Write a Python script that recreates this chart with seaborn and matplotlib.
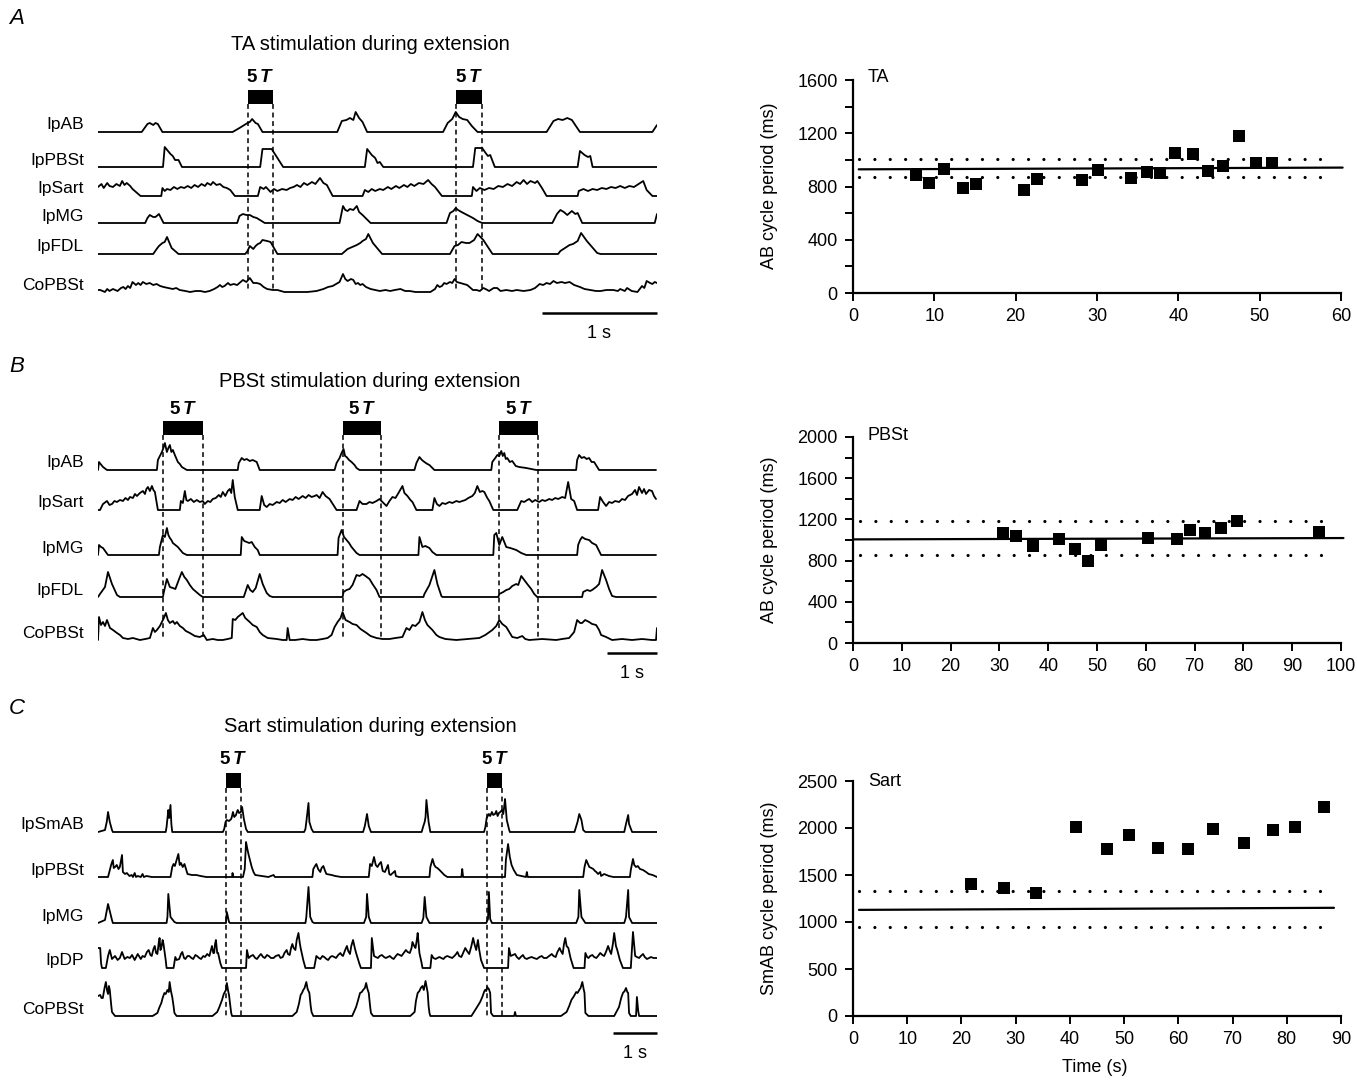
import matplotlib
matplotlib.use("Agg")
import matplotlib.pyplot as plt
import seaborn as sns
import numpy as np

# ---------------- data: right-hand cycle-period plots ----------------
A_TIME = [7.8, 9.4, 11.2, 13.5, 15.1, 21.0, 22.6, 28.1, 30.1, 34.2, 36.1, 37.8, 39.6, 41.8, 43.6, 45.5, 47.5, 49.5, 51.5]
A_PERIOD = [888, 828, 929, 787, 820, 770, 858, 846, 924, 866, 909, 901, 1048, 1043, 916, 952, 1177, 977, 977]
A_MEAN = [929, 942]
A_SD = [868, 1003]

B_TIME = [30.7, 33.5, 36.9, 42.3, 45.5, 48.1, 50.9, 60.5, 66.4, 69.1, 72.2, 75.4, 78.6, 95.5]
B_PERIOD = [1065, 1039, 940, 1006, 914, 795, 950, 1019, 1009, 1095, 1071, 1117, 1183, 1078]
B_MEAN = [1006, 1019]
B_SD = [858, 1187]

C_TIME = [21.7, 27.8, 33.8, 41.1, 46.8, 50.9, 56.2, 61.7, 66.4, 72.2, 77.5, 81.5, 86.8]
C_PERIOD = [1400, 1367, 1312, 2010, 1773, 1923, 1791, 1776, 1985, 1842, 1977, 2014, 2222]
C_MEAN = [1129, 1151]
C_SD = [947, 1334]

# ---------------- data: EMG traces (time s, amplitude a.u.) ----------------
A_NAMES = ["IpAB", "IpPBSt", "IpSart", "IpMG", "IpFDL", "CoPBSt"]
A_DUR = 4.86
A_STIM = [(1.30, 1.52), (3.11, 3.34)]
A_IpAB = [(0,0),(0.38,0),(0.43,8),(0.45,9),(0.48,7),(0.50,9),(0.52,8),(0.56,0),(1.17,0),(1.23,4),(1.30,9),(1.32,10),(1.34,13),(1.37,9),(1.39,8),(1.43,0),(2.08,0),(2.12,11),(2.16,12),(2.19,14),(2.22,12),(2.24,20),(2.27,14),(2.30,10),(2.34,0),(3.00,0),(3.04,9),(3.08,13),(3.11,20),(3.14,15),(3.17,13),(3.21,12),(3.25,6),(3.30,0),(3.90,0),(3.96,11),(4.00,13),(4.04,12),(4.08,14),(4.12,12),(4.19,0),(4.82,0),(4.86,7)]
A_IpPBSt = [(0,0),(0.565,0),(0.58,20),(0.63,13),(0.65,11),(0.67,7),(0.70,7),(0.73,0),(1.41,0),(1.43,18),(1.51,18),(1.56,9),(1.61,0),(2.32,0),(2.34,18),(2.38,12),(2.41,9),(2.43,4),(2.45,5),(2.48,0),(3.26,0),(3.28,19),(3.34,19),(3.37,14),(3.39,11),(3.41,12),(3.45,0),(4.17,0),(4.19,16),(4.23,12),(4.26,10),(4.28,11),(4.30,0),(4.86,0)]
A_IpSart = [(0,9),(0.03,12),(0.05,8),(0.08,13),(0.10,10),(0.13,9),(0.16,12),(0.19,10),(0.21,15),(0.23,11),(0.25,13),(0.28,10),(0.30,7),(0.37,0),(0.55,0),(0.56,8),(0.58,5),(0.60,7),(0.63,6),(0.66,9),(0.69,7),(0.72,9),(0.75,8),(0.78,10),(0.81,8),(0.84,11),(0.87,9),(0.90,12),(0.93,10),(0.95,13),(0.98,11),(1.00,14),(1.03,11),(1.06,12),(1.09,9),(1.12,8),(1.15,6),(1.19,0),(1.39,0),(1.41,9),(1.44,7),(1.46,9),(1.50,4),(1.53,7),(1.56,5),(1.60,7),(1.64,6),(1.67,8),(1.70,9),(1.73,11),(1.76,9),(1.79,13),(1.82,11),(1.86,14),(1.89,12),(1.93,18),(1.96,13),(1.99,11),(2.04,0),(2.30,0),(2.32,6),(2.35,4),(2.38,7),(2.41,5),(2.45,7),(2.48,6),(2.52,9),(2.55,7),(2.59,10),(2.62,8),(2.66,11),(2.69,9),(2.72,12),(2.75,10),(2.79,13),(2.83,12),(2.87,16),(2.90,12),(2.93,9),(2.99,0),(3.25,0),(3.26,9),(3.29,5),(3.32,8),(3.36,6),(3.40,8),(3.44,7),(3.48,10),(3.52,9),(3.56,12),(3.60,10),(3.64,14),(3.67,12),(3.70,16),(3.73,12),(3.76,15),(3.80,13),(3.82,15),(3.86,8),(3.90,0),(4.17,0),(4.18,5),(4.22,7),(4.26,5),(4.30,7),(4.34,6),(4.38,8),(4.42,7),(4.46,9),(4.50,8),(4.54,10),(4.58,8),(4.62,10),(4.66,9),(4.70,12),(4.74,15),(4.77,6),(4.82,0),(4.86,0)]
A_IpMG = [(0,0),(0.41,0),(0.43,5),(0.45,8),(0.48,6),(0.50,6),(0.53,9),(0.57,0),(1.21,0),(1.23,7),(1.26,9),(1.29,8),(1.32,8),(1.35,6),(1.38,5),(1.45,0),(2.10,0),(2.13,17),(2.15,13),(2.17,12),(2.19,14),(2.22,13),(2.25,17),(2.27,11),(2.30,8),(2.37,0),(3.03,0),(3.06,10),(3.09,12),(3.11,15),(3.13,13),(3.16,11),(3.21,8),(3.26,5),(3.30,2),(3.34,0),(3.95,0),(3.99,9),(4.02,13),(4.05,11),(4.08,8),(4.12,12),(4.15,9),(4.17,10),(4.21,0),(4.84,0),(4.86,9)]
A_IpFDL = [(0,0),(0.48,0),(0.51,5),(0.53,8),(0.56,11),(0.58,12),(0.60,17),(0.64,6),(0.70,0),(1.28,0),(1.30,3),(1.32,8),(1.35,5),(1.37,8),(1.39,10),(1.41,11),(1.43,14),(1.47,13),(1.50,12),(1.56,0),(2.12,0),(2.17,5),(2.21,7),(2.25,9),(2.28,11),(2.30,13),(2.33,15),(2.35,20),(2.39,11),(2.47,0),(3.06,0),(3.08,4),(3.10,8),(3.13,9),(3.16,12),(3.20,11),(3.23,11),(3.27,14),(3.30,20),(3.35,14),(3.43,0),(4.00,0),(4.02,3),(4.06,6),(4.10,9),(4.13,10),(4.17,13),(4.20,21),(4.25,13),(4.34,1),(4.37,0),(4.86,0)]
A_CoPBSt = [(0.00,2),(0.02,2),(0.06,0),(0.08,3),(0.10,1),(0.13,3),(0.17,1),(0.20,4),(0.22,5),(0.24,3),(0.26,6),(0.28,4),(0.30,10),(0.33,7),(0.35,9),(0.37,7),(0.39,10),(0.42,8),(0.45,9),(0.48,7),(0.51,8),(0.54,6),(0.57,5),(0.61,4),(0.65,3),(0.68,4),(0.71,2),(0.76,1),(0.80,0),(0.85,1),(0.89,1),(0.93,0),(0.97,1),(1.01,3),(1.04,5),(1.06,7),(1.08,5),(1.10,6),(1.13,9),(1.15,7),(1.18,8),(1.21,7),(1.24,10),(1.26,12),(1.29,10),(1.32,14),(1.35,9),(1.38,9),(1.41,8),(1.44,5),(1.47,3),(1.52,2),(1.56,2),(1.62,0),(1.67,0),(1.75,0),(1.82,0),(1.90,1),(1.96,3),(2.00,5),(2.04,6),(2.07,8),(2.10,10),(2.13,18),(2.15,13),(2.17,11),(2.20,13),(2.22,12),(2.24,8),(2.26,9),(2.28,7),(2.30,8),(2.33,5),(2.37,3),(2.41,2),(2.45,1),(2.50,2),(2.54,1),(2.58,2),(2.63,3),(2.67,1),(2.71,1),(2.76,0),(2.82,0),(2.89,0),(2.93,3),(2.95,7),(2.97,5),(2.99,6),(3.01,9),(3.03,8),(3.06,10),(3.08,9),(3.10,13),(3.12,10),(3.15,9),(3.18,8),(3.21,7),(3.24,4),(3.26,2),(3.29,2),(3.32,1),(3.35,4),(3.37,3),(3.40,1),(3.44,4),(3.47,4),(3.50,1),(3.55,2),(3.60,1),(3.64,2),(3.70,1),(3.76,2),(3.80,4),(3.84,8),(3.87,7),(3.90,9),(3.93,8),(3.96,11),(3.99,9),(4.03,10),(4.06,9),(4.10,10),(4.14,7),(4.19,5),(4.23,3),(4.28,2),(4.33,1),(4.37,1),(4.42,2),(4.48,2),(4.52,1),(4.54,3),(4.58,1),(4.60,4),(4.64,1),(4.69,0),(4.73,6),(4.75,4),(4.77,11),(4.80,9),(4.82,8),(4.84,10),(4.86,9)]

B_NAMES = ["IpAB", "IpSart", "IpMG", "IpFDL", "CoPBSt"]
B_DUR = 11.2
B_STIM = [(1.30, 2.10), (4.90, 5.68), (8.04, 8.82)]
B_IpAB = [(0,0),(0.02,8),(0.10,3),(0.18,0),(1.18,0),(1.20,10),(1.24,14),(1.28,18),(1.31,22),(1.34,27),(1.38,18),(1.41,22),(1.44,25),(1.47,18),(1.50,20),(1.54,15),(1.60,8),(1.64,6),(1.68,3),(1.78,0),(2.80,0),(2.82,7),(2.88,12),(2.93,10),(2.98,11),(3.04,9),(3.10,10),(3.18,8),(3.24,0),(4.74,0),(4.78,7),(4.84,12),(4.88,17),(4.92,21),(4.95,14),(4.98,13),(5.03,10),(5.08,8),(5.14,5),(5.18,2),(5.24,0),(6.34,0),(6.38,7),(6.44,13),(6.49,10),(6.54,8),(6.60,6),(6.64,5),(6.74,0),(7.88,0),(7.90,8),(7.96,12),(8.00,15),(8.04,14),(8.08,19),(8.11,14),(8.14,17),(8.17,11),(8.20,12),(8.25,8),(8.30,9),(8.37,4),(8.44,3),(8.58,2),(8.78,0),(9.58,0),(9.60,10),(9.64,15),(9.69,12),(9.74,13),(9.79,11),(9.84,12),(9.89,8),(9.94,8),(10.04,0),(11.18,0)]
B_IpSart = [(0,0),(0.04,0),(0.10,6),(0.18,9),(0.23,5),(0.28,6),(0.33,9),(0.38,8),(0.44,10),(0.50,9),(0.55,12),(0.60,10),(0.64,13),(0.70,12),(0.74,16),(0.78,14),(0.84,17),(0.90,19),(0.94,16),(0.97,21),(1.00,23),(1.04,19),(1.08,24),(1.11,20),(1.14,18),(1.20,0),(1.64,0),(1.66,9),(1.70,7),(1.74,19),(1.77,10),(1.80,9),(1.86,11),(1.92,8),(1.98,10),(2.04,8),(2.10,9),(2.14,6),(2.20,9),(2.25,8),(2.30,11),(2.36,12),(2.42,15),(2.46,13),(2.50,18),(2.55,14),(2.60,19),(2.64,21),(2.67,17),(2.70,30),(2.74,13),(2.80,0),(3.24,0),(3.28,14),(3.33,5),(3.38,3),(3.44,6),(3.50,5),(3.58,8),(3.64,7),(3.70,10),(3.76,8),(3.84,11),(3.90,10),(3.96,13),(4.02,11),(4.10,14),(4.16,12),(4.22,15),(4.28,13),(4.34,14),(4.38,15),(4.44,12),(4.50,18),(4.56,14),(4.64,11),(4.78,0),(5.18,0),(5.24,9),(5.30,6),(5.38,6),(5.44,8),(5.50,7),(5.58,9),(5.64,11),(5.70,8),(5.78,4),(5.84,9),(5.90,13),(5.96,12),(6.02,17),(6.10,24),(6.14,17),(6.20,14),(6.26,10),(6.30,8),(6.38,0),(6.70,0),(6.74,12),(6.79,6),(6.84,4),(6.90,7),(6.96,6),(7.04,8),(7.10,7),(7.18,9),(7.24,8),(7.30,9),(7.36,10),(7.42,12),(7.50,14),(7.55,17),(7.60,24),(7.65,18),(7.70,19),(7.74,18),(7.80,12),(7.84,9),(7.92,0),(8.40,0),(8.48,9),(8.54,8),(8.60,10),(8.64,11),(8.70,8),(8.76,10),(8.84,8),(8.90,10),(8.96,9),(9.04,11),(9.10,10),(9.16,12),(9.22,11),(9.30,13),(9.36,12),(9.42,28),(9.48,11),(9.54,9),(9.60,0),(10.02,0),(10.06,13),(10.12,8),(10.18,4),(10.24,8),(10.30,7),(10.36,9),(10.44,8),(10.50,11),(10.56,10),(10.62,14),(10.70,16),(10.76,20),(10.80,15),(10.84,23),(10.90,17),(10.94,21),(10.98,16),(11.04,20),(11.10,19),(11.14,14),(11.18,11)]
B_IpMG = [(0,0),(0.02,10),(0.06,8),(0.10,7),(0.20,0),(1.22,0),(1.24,8),(1.30,20),(1.34,18),(1.38,27),(1.41,20),(1.44,17),(1.47,15),(1.50,12),(1.55,10),(1.60,8),(1.65,5),(1.70,2),(1.78,0),(2.86,0),(2.88,18),(2.93,14),(2.98,13),(3.03,12),(3.08,13),(3.14,8),(3.20,5),(3.24,0),(4.80,0),(4.82,17),(4.88,25),(4.93,18),(4.98,15),(5.03,12),(5.08,8),(5.13,5),(5.18,2),(5.24,0),(6.42,0),(6.44,18),(6.50,8),(6.56,9),(6.64,7),(6.70,3),(6.78,0),(7.92,0),(7.94,20),(7.98,22),(8.04,10),(8.10,18),(8.18,8),(8.26,7),(8.32,6),(8.38,5),(8.48,2),(8.58,0),(9.60,0),(9.62,10),(9.66,15),(9.70,18),(9.76,16),(9.84,15),(9.90,12),(9.98,10),(10.08,0),(11.18,0)]
B_IpFDL = [(0,0),(0.04,3),(0.14,10),(0.20,25),(0.28,13),(0.38,2),(0.44,0),(1.30,0),(1.32,5),(1.38,18),(1.44,10),(1.50,9),(1.55,8),(1.58,12),(1.64,20),(1.68,25),(1.73,20),(1.78,17),(1.84,12),(1.90,8),(2.04,2),(2.10,0),(2.92,0),(2.94,3),(3.00,12),(3.05,7),(3.10,5),(3.16,9),(3.24,23),(3.30,13),(3.38,4),(3.44,1),(3.50,0),(4.90,0),(4.92,5),(4.98,7),(5.04,8),(5.10,12),(5.18,22),(5.24,21),(5.30,23),(5.36,21),(5.44,18),(5.50,13),(5.58,7),(5.64,0),(6.52,0),(6.54,3),(6.64,12),(6.74,27),(6.80,13),(6.88,1),(6.90,0),(8.02,0),(8.04,3),(8.12,5),(8.18,7),(8.24,8),(8.30,11),(8.38,13),(8.42,12),(8.48,21),(8.54,17),(8.60,13),(8.68,8),(8.74,3),(8.80,0),(9.70,0),(9.72,5),(9.80,7),(9.86,6),(9.90,7),(9.98,10),(10.04,13),(10.10,27),(10.18,17),(10.24,8),(10.30,1),(10.38,0),(11.18,0)]
B_CoPBSt = [(0,0),(0.02,23),(0.06,15),(0.10,18),(0.14,14),(0.18,20),(0.24,12),(0.30,10),(0.38,7),(0.44,5),(0.50,2),(0.60,1),(0.70,2),(0.84,0),(0.95,1),(1.04,2),(1.10,12),(1.14,8),(1.18,10),(1.24,14),(1.28,18),(1.32,22),(1.36,27),(1.40,20),(1.44,17),(1.50,19),(1.54,16),(1.58,18),(1.64,14),(1.70,12),(1.76,9),(1.84,7),(1.94,4),(2.04,3),(2.12,5),(2.18,0),(2.30,1),(2.40,0),(2.50,0),(2.60,1),(2.68,2),(2.70,21),(2.75,20),(2.80,23),(2.85,25),(2.90,27),(2.95,22),(3.04,18),(3.10,15),(3.18,13),(3.24,8),(3.30,5),(3.40,2),(3.58,1),(3.70,0),(3.78,0),(3.80,12),(3.84,0),(3.95,0),(4.10,1),(4.25,0),(4.38,0),(4.50,1),(4.60,2),(4.68,5),(4.74,13),(4.80,18),(4.86,22),(4.90,28),(4.96,20),(5.04,18),(5.10,16),(5.18,15),(5.26,11),(5.32,9),(5.38,7),(5.46,4),(5.58,2),(5.70,1),(5.84,1),(5.96,2),(6.10,3),(6.18,12),(6.24,10),(6.30,15),(6.36,14),(6.44,18),(6.50,28),(6.55,20),(6.60,15),(6.66,12),(6.70,10),(6.78,5),(6.84,3),(6.96,1),(7.18,0),(7.40,1),(7.64,2),(7.76,5),(7.90,10),(7.98,14),(8.04,20),(8.10,16),(8.18,13),(8.24,8),(8.30,3),(8.40,2),(8.50,4),(8.56,1),(8.64,0),(8.90,1),(9.18,0),(9.30,1),(9.44,2),(9.54,8),(9.60,20),(9.66,17),(9.70,17),(9.76,20),(9.84,18),(9.90,16),(9.98,15),(10.04,10),(10.08,5),(10.18,3),(10.30,0),(10.50,1),(10.70,0),(10.90,1),(11.10,0),(11.18,0),(11.20,12)]

C_NAMES = ["IpSmAB", "IpPBSt", "IpMG", "IpDP", "CoPBSt"]
C_DUR = 12.8
C_STIM = [(2.93, 3.27), (8.91, 9.25)]
C_IpSmAB = [(0,0),(0.16,2),(0.20,10),(0.23,20),(0.27,10),(0.32,2),(0.34,0),(1.55,0),(1.57,5),(1.61,22),(1.63,14),(1.66,27),(1.68,8),(1.70,0),(2.86,0),(2.89,3),(2.92,10),(2.95,12),(3.00,11),(3.05,13),(3.07,16),(3.09,20),(3.12,15),(3.16,17),(3.18,20),(3.20,22),(3.23,19),(3.27,20),(3.30,25),(3.34,13),(3.39,3),(3.43,0),(4.72,0),(4.75,3),(4.77,10),(4.82,29),(4.84,10),(4.89,3),(4.93,0),(6.07,0),(6.11,6),(6.16,18),(6.20,6),(6.25,0),(7.41,0),(7.45,6),(7.48,10),(7.50,15),(7.52,32),(7.57,10),(7.61,0),(8.84,0),(8.87,5),(8.90,14),(8.95,18),(8.98,16),(9.02,20),(9.05,17),(9.09,18),(9.12,21),(9.15,16),(9.18,19),(9.21,20),(9.25,22),(9.28,18),(9.30,25),(9.32,33),(9.36,12),(9.41,3),(9.43,0),(10.91,0),(10.98,10),(11.02,18),(11.07,12),(11.11,2),(11.16,0),(12.05,0),(12.09,8),(12.14,17),(12.16,8),(12.23,0),(12.80,0)]
C_IpPBSt = [(0,0),(0.23,0),(0.27,7),(0.30,12),(0.34,17),(0.36,9),(0.39,10),(0.43,12),(0.47,8),(0.50,10),(0.55,22),(0.57,5),(0.62,3),(0.66,4),(0.72,1),(0.77,2),(0.80,0),(0.84,4),(0.87,0),(0.91,1),(0.98,0),(1.02,3),(1.05,0),(1.11,1),(1.23,0),(1.66,0),(1.70,10),(1.73,13),(1.76,11),(1.80,17),(1.84,23),(1.87,12),(1.90,14),(1.94,10),(1.98,13),(2.05,3),(2.15,2),(2.25,2),(2.35,1),(2.48,0),(3.07,0),(3.08,4),(3.10,0),(3.32,0),(3.36,8),(3.39,35),(3.42,28),(3.45,22),(3.49,15),(3.52,10),(3.56,5),(3.60,2),(3.75,1),(3.90,0),(4.02,2),(4.05,0),(4.36,0),(4.91,0),(4.93,8),(4.97,11),(5.00,13),(5.04,8),(5.09,5),(5.12,9),(5.16,11),(5.20,6),(5.23,3),(5.35,2),(5.43,1),(5.57,0),(6.20,0),(6.23,13),(6.27,11),(6.32,20),(6.36,12),(6.40,10),(6.44,13),(6.48,15),(6.52,6),(6.57,5),(6.60,8),(6.64,12),(6.67,3),(6.70,2),(6.80,6),(6.82,1),(6.89,0),(7.59,0),(7.61,10),(7.66,18),(7.70,12),(7.73,10),(7.77,9),(7.82,7),(7.93,2),(8.00,0),(8.32,0),(8.34,8),(8.36,0),(9.32,0),(9.34,17),(9.39,33),(9.43,20),(9.47,12),(9.52,7),(9.59,2),(9.80,0),(9.82,5),(9.84,0),(11.11,0),(11.14,10),(11.18,17),(11.21,14),(11.25,10),(11.30,9),(11.34,8),(11.38,6),(11.41,5),(11.45,3),(11.50,5),(11.52,1),(11.59,3),(11.70,1),(11.80,0),(12.18,0),(12.20,7),(12.25,18),(12.28,12),(12.32,10),(12.36,11),(12.41,8),(12.48,7),(12.55,5),(12.61,3),(12.70,2),(12.80,0)]
C_IpMG = [(0,0),(0.16,3),(0.23,19),(0.32,3),(0.34,0),(1.57,0),(1.59,6),(1.61,29),(1.66,6),(1.75,1),(1.80,0),(2.93,0),(2.95,11),(3.00,1),(3.02,0),(4.75,0),(4.77,6),(4.82,36),(4.86,6),(4.91,1),(4.95,0),(6.09,0),(6.14,6),(6.16,29),(6.20,6),(6.25,0),(7.41,0),(7.45,5),(7.48,26),(7.52,6),(7.59,0),(8.89,0),(8.93,4),(8.95,31),(8.98,4),(9.02,0),(10.95,0),(11.00,6),(11.02,33),(11.07,6),(11.16,0),(12.05,0),(12.09,6),(12.14,33),(12.16,6),(12.23,0),(12.80,0)]
C_IpDP = [(0.00,20),(0.05,20),(0.07,5),(0.09,0),(0.18,0),(0.23,12),(0.27,18),(0.32,9),(0.39,12),(0.45,8),(0.50,10),(0.55,16),(0.61,9),(0.67,11),(0.73,10),(0.78,13),(0.84,8),(0.91,14),(0.98,9),(1.02,12),(1.07,11),(1.12,16),(1.16,18),(1.20,13),(1.23,12),(1.27,19),(1.30,22),(1.33,15),(1.36,14),(1.39,25),(1.41,30),(1.43,18),(1.45,20),(1.48,28),(1.50,24),(1.55,8),(1.57,0),(1.73,0),(1.77,11),(1.80,8),(1.86,9),(1.90,14),(1.93,16),(1.97,10),(2.00,9),(2.05,12),(2.09,12),(2.14,10),(2.18,9),(2.23,13),(2.27,12),(2.32,10),(2.36,9),(2.41,12),(2.45,11),(2.50,14),(2.55,12),(2.58,17),(2.61,22),(2.64,15),(2.66,15),(2.68,24),(2.70,28),(2.73,15),(2.75,15),(2.80,5),(2.84,0),(3.39,0),(3.41,18),(3.45,10),(3.50,12),(3.55,13),(3.60,10),(3.64,9),(3.69,12),(3.73,14),(3.78,11),(3.82,10),(3.87,13),(3.91,12),(3.96,10),(4.02,10),(4.07,12),(4.14,13),(4.18,10),(4.23,11),(4.27,15),(4.32,18),(4.35,14),(4.39,13),(4.42,20),(4.45,24),(4.48,20),(4.52,18),(4.55,28),(4.59,35),(4.62,25),(4.64,20),(4.70,8),(4.75,0),(4.95,0),(5.00,12),(5.05,10),(5.09,9),(5.14,12),(5.18,11),(5.23,9),(5.27,8),(5.32,11),(5.36,12),(5.41,11),(5.45,10),(5.50,13),(5.55,15),(5.58,13),(5.61,12),(5.66,18),(5.70,22),(5.73,17),(5.77,14),(5.80,22),(5.84,28),(5.88,20),(5.91,15),(5.98,5),(6.02,0),(6.25,0),(6.27,30),(6.32,12),(6.36,11),(6.41,10),(6.45,12),(6.50,13),(6.55,11),(6.59,10),(6.64,11),(6.68,12),(6.73,10),(6.77,9),(6.82,12),(6.86,14),(6.91,13),(6.95,12),(7.00,15),(7.05,18),(7.09,16),(7.14,15),(7.18,20),(7.20,26),(7.24,22),(7.27,20),(7.30,28),(7.32,35),(7.36,15),(7.41,5),(7.43,0),(7.61,0),(7.64,13),(7.68,10),(7.73,9),(7.77,10),(7.82,11),(7.86,10),(7.91,9),(7.95,11),(8.00,12),(8.05,11),(8.11,10),(8.16,12),(8.20,14),(8.23,16),(8.27,12),(8.32,11),(8.36,15),(8.41,20),(8.45,17),(8.50,14),(8.55,22),(8.59,30),(8.62,24),(8.66,18),(8.70,28),(8.73,18),(8.77,8),(8.84,0),(9.39,0),(9.41,20),(9.45,12),(9.50,13),(9.55,14),(9.59,11),(9.64,9),(9.68,11),(9.73,13),(9.77,10),(9.82,9),(9.86,10),(9.93,11),(9.98,10),(10.05,9),(10.11,11),(10.16,12),(10.21,10),(10.27,10),(10.33,12),(10.39,14),(10.43,12),(10.48,11),(10.52,16),(10.57,20),(10.60,17),(10.64,14),(10.67,24),(10.70,30),(10.73,22),(10.77,20),(10.82,10),(10.89,0),(11.14,0),(11.16,15),(11.20,11),(11.23,10),(11.27,12),(11.32,13),(11.36,11),(11.41,10),(11.45,12),(11.50,15),(11.55,13),(11.59,12),(11.64,17),(11.68,22),(11.72,17),(11.75,14),(11.79,24),(11.82,35),(11.86,22),(11.89,18),(11.95,8),(12.02,0),(12.20,0),(12.25,36),(12.30,12),(12.34,11),(12.39,10),(12.43,12),(12.48,14),(12.52,11),(12.57,9),(12.62,10),(12.66,11),(12.72,10),(12.80,10)]
C_CoPBSt = [(0.00,20),(0.05,21),(0.08,18),(0.11,18),(0.15,28),(0.18,34),(0.21,25),(0.23,22),(0.25,30),(0.27,26),(0.30,12),(0.32,4),(0.39,0),(1.25,0),(1.36,3),(1.40,8),(1.45,13),(1.48,18),(1.52,23),(1.55,22),(1.59,26),(1.62,24),(1.64,34),(1.67,25),(1.70,19),(1.73,10),(1.75,3),(1.80,0),(2.62,0),(2.73,4),(2.78,9),(2.84,16),(2.88,22),(2.93,26),(2.95,33),(2.98,25),(3.00,21),(3.03,10),(3.05,3),(3.07,0),(4.45,0),(4.55,4),(4.60,12),(4.64,21),(4.67,23),(4.70,26),(4.73,28),(4.77,34),(4.80,27),(4.84,23),(4.87,10),(4.89,4),(4.93,0),(5.82,0),(5.91,9),(5.95,15),(6.00,23),(6.04,24),(6.07,26),(6.11,28),(6.14,33),(6.17,27),(6.20,23),(6.23,10),(6.25,3),(6.30,0),(7.15,0),(7.25,4),(7.28,15),(7.32,23),(7.36,25),(7.39,28),(7.43,30),(7.46,26),(7.50,35),(7.53,28),(7.55,23),(7.57,10),(7.59,3),(7.61,0),(8.55,0),(8.68,9),(8.75,14),(8.80,19),(8.84,24),(8.86,26),(8.89,25),(8.91,29),(8.95,27),(8.98,23),(9.00,3),(9.05,0),(9.53,0),(9.55,4),(9.57,0),(10.60,0),(10.73,4),(10.79,10),(10.84,16),(10.90,20),(10.95,24),(10.98,23),(11.02,26),(11.05,28),(11.09,34),(11.12,27),(11.14,23),(11.16,3),(11.23,0),(11.82,0),(11.93,9),(11.98,18),(12.02,23),(12.06,25),(12.09,28),(12.12,24),(12.14,23),(12.16,3),(12.20,0),(12.32,0),(12.34,19),(12.37,5),(12.39,0),(12.80,0)]

SCALE_BAR_S = 1.0

# ---------------- style ----------------
sns.set_theme(style="ticks")
plt.rcParams["font.family"] = ["Liberation Sans", "DejaVu Sans"]
plt.rcParams["mathtext.fontset"] = "custom"
plt.rcParams["mathtext.rm"] = "Liberation Sans"
plt.rcParams["mathtext.bf"] = "Liberation Sans:bold"
plt.rcParams["mathtext.it"] = "Liberation Sans:italic:bold"
plt.rcParams.update({"text.color": "black", "axes.labelcolor": "black",
                     "xtick.color": "black", "ytick.color": "black",
                     "axes.edgecolor": "black"})

W, H = 1357, 1080
fig = plt.figure(figsize=(W / 100, H / 100), dpi=100)
fig.patch.set_facecolor("white")


def rect(l, t, r, b):
    return [l / W, 1 - b / H, (r - l) / W, (b - t) / H]


def ftext(x, y, s, **kw):
    fig.text(x / W, 1 - y / H, s, **kw)


TRACE_LW = 1.3


def trace_panel(top, bottom, dur, names, traces, bases, stim, bar_y, tick_y, sbar_y, letter, letter_y, title, title_y):
    ax = fig.add_axes(rect(98, top, 657, bottom))
    ax.set_xlim(0, dur)
    ax.set_ylim(bottom, top)
    ax.axis("off")
    for name, data, base in zip(names, traces, bases):
        t = np.array([p[0] for p in data])
        h = np.array([p[1] for p in data])
        sns.lineplot(x=t, y=base - h, ax=ax, color="black", lw=TRACE_LW,
                     estimator=None, sort=False, legend=False)
        ftext(84, base - 7, name, ha="right", va="center", fontsize=12.5, color="black")
    for (t0, t1) in stim:
        ax.fill_between([t0, t1], bar_y[0], bar_y[1], color="black", lw=0)
        ax.vlines([t0, t1], bar_y[1], bases[-1], colors="black", lw=1.1,
                  linestyles=(0, (3.2, 2.4)))
        ax.text((t0 + t1) / 2, tick_y, r"$\mathbf{5}\,\mathit{T}$", ha="center", va="center",
                fontsize=13.5, color="black")
    ax.plot([dur - SCALE_BAR_S, dur], [sbar_y, sbar_y], color="black", lw=1.8,
            solid_capstyle="butt", clip_on=False)
    ax.text(dur - SCALE_BAR_S / 2, sbar_y + 21, "1 s", ha="center", va="center",
            fontsize=13, clip_on=False, color="black")
    ftext(17, letter_y, letter, fontsize=16, fontstyle="italic", ha="center", va="center")
    ftext(370, title_y, title, fontsize=14.5, ha="center", va="center")
    return ax


trace_panel(40, 345, A_DUR, A_NAMES,
            [A_IpAB, A_IpPBSt, A_IpSart, A_IpMG, A_IpFDL, A_CoPBSt],
            [132, 167, 196, 223, 254, 292], A_STIM, (90, 104), 77, 313,
            "A", 18, "TA stimulation during extension", 44)
trace_panel(395, 700, B_DUR, B_NAMES,
            [B_IpAB, B_IpSart, B_IpMG, B_IpFDL, B_CoPBSt],
            [470, 510, 555, 597, 640], B_STIM, (421, 435), 409, 653,
            "B", 367, "PBSt stimulation during extension", 381)
trace_panel(740, 1075, C_DUR, C_NAMES,
            [C_IpSmAB, C_IpPBSt, C_IpMG, C_IpDP, C_CoPBSt],
            [832, 877, 923, 968, 1016], C_STIM, (773, 788), 760, 1033,
            "C", 708, "Sart stimulation during extension", 726)


# ---------------- right-hand plots ----------------
def period_panel(box, xs, ys, xmax, ymax, ymaj, ymin, mean, sd, mean_x, sd_x, tag, tag_xy, ylabel, ylabel_y):
    ax = fig.add_axes(rect(*box))
    sns.scatterplot(x=xs, y=ys, ax=ax, marker="s", s=80, color="black",
                    edgecolor="black", linewidth=0, zorder=3, legend=False)
    ax.plot(mean_x, mean, color="black", lw=1.6, clip_on=False)
    for v in sd:
        ax.plot(sd_x, [v, v], color="black", lw=2.3, linestyle=(0, (0.01, 4.8)),
                dash_capstyle="round", clip_on=False)
    ax.set_xlim(0, xmax)
    ax.set_ylim(0, ymax)
    ax.set_xticks(np.arange(0, xmax + 1, 10))
    ax.set_yticks(np.arange(0, ymax + 1, ymaj))
    if ymin:
        ax.set_yticks(np.arange(0, ymax + 1, ymin), minor=True)
    for s in ("top", "right"):
        ax.spines[s].set_visible(False)
    for s in ("left", "bottom"):
        ax.spines[s].set_linewidth(1.6)
        ax.spines[s].set_color("black")
    ax.tick_params(which="both", direction="out", width=1.4, color="black",
                   labelsize=13, labelcolor="black")
    ax.tick_params(which="major", length=6, pad=5)
    ax.tick_params(which="minor", length=6)
    ax.set_facecolor("white")
    ax.grid(False)
    ftext(tag_xy[0], tag_xy[1], tag, fontsize=13, ha="left", va="center")
    ftext(770, ylabel_y, ylabel, fontsize=13, rotation=90, ha="center", va="center")
    return ax


period_panel((853, 80, 1341, 293), A_TIME, A_PERIOD, 60, 1600, 400, 200,
             A_MEAN, A_SD, [0.7, 60.2], [0.7, 58.7], "TA", (868, 77),
             "AB cycle period (ms)", 186)
period_panel((853, 437, 1341, 643), B_TIME, B_PERIOD, 100, 2000, 400, 200,
             B_MEAN, B_SD, [0.0, 100.5], [1.4, 97.4], "PBSt", (868, 436),
             "AB cycle period (ms)", 540)
period_panel((853, 781, 1341, 1016), C_TIME, C_PERIOD, 90, 2500, 500, None,
             C_MEAN, C_SD, [1.1, 88.7], [1.1, 87.0], "Sart", (868, 782),
             "SmAB cycle period (ms)", 898)
ftext(1095, 1067, "Time (s)", fontsize=13, ha="center", va="center")

fig.savefig("out.png", dpi=100, facecolor="white")
